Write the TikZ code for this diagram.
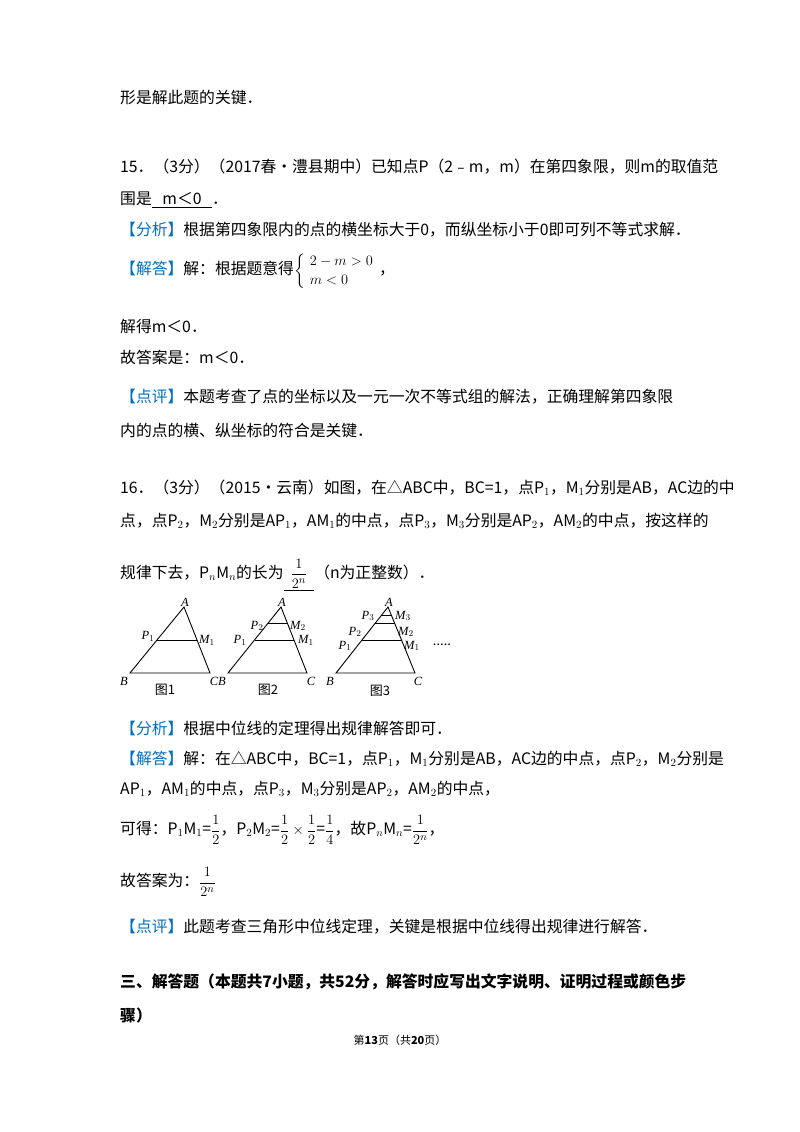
\documentclass[tikz,border=0pt]{standalone}
\usepackage{amsmath}
\usepackage{fontspec}
\setmainfont{Noto Sans CJK SC}
\newfontfamily\lat{Liberation Serif}
\usetikzlibrary{calc}
\definecolor{jb}{RGB}{0,112,192}
\begin{document}
\begin{tikzpicture}[x=1pt,y=-1pt,
  tl/.style={anchor=west,inner sep=0pt,font=\fontsize{15.8}{19}\selectfont},
  fl/.style={inner sep=0pt,font=\fontsize{12.5}{13}\selectfont\lat\itshape},
  figcap/.style={inner sep=0pt,font=\fontsize{13}{14}\selectfont},
  ln/.style={line width=0.9pt}]
\useasboundingbox (0,0) rectangle (800,1132);
\fill[white] (0,0) rectangle (800,1132);
\newcommand\bl[1]{\textcolor{jb}{#1}}
\node[tl] (l1) at (120,98) {形是解此题的关键．};
\node[tl] (l2) at (120,167) {15．（3分）（2017春•澧县期中）已知点P（2﹣m，m）在第四象限，则m的取值范};
\node[tl] (l3) at (120,200) {围是\underline{\ \ \ m＜0\ \ \ }．};
\node[tl] (l4) at (120,230) {\bl{【分析】}根据第四象限内的点的横坐标大于0，而纵坐标小于0即可列不等式求解．};
\node[tl] (l5) at (120,271) {\bl{【解答】}解：根据题意得$\left\{\begin{array}{l}2-m>0\\ m<0\end{array}\right.$，};
\node[tl] (l6) at (120,327) {解得m＜0．};
\node[tl] (l7) at (120,357) {故答案是：m＜0．};
\node[tl] (l8) at (120,397) {\bl{【点评】}本题考查了点的坐标以及一元一次不等式组的解法，正确理解第四象限};
\node[tl] (l9) at (120,430) {内的点的横、纵坐标的符合是关键．};
\node[tl] (l10) at (120,488) {16．（3分）（2015•云南）如图，在△ABC中，BC=1，点P$_1$，M$_1$分别是AB，AC边的中};
\node[tl] (l11) at (120,521) {点，点P$_2$，M$_2$分别是AP$_1$，AM$_1$的中点，点P$_3$，M$_3$分别是AP$_2$，AM$_2$的中点，按这样的};
\node[tl] (l12) at (120,575) {规律下去，P$_n$M$_n$的长为\underline{\ \ $\dfrac{1}{2^n}$\ \ }（n为正整数）．};
% figure 1
\coordinate (A1) at (184,607); \coordinate (B1) at (130,673); \coordinate (C1) at (210,673);
\draw[ln] (A1)--(B1)--(C1)--cycle;
\draw[ln] ($(A1)!0.5!(B1)$) coordinate (P11) -- ($(A1)!0.5!(C1)$) coordinate (M11);
\node[fl] at (185,602) {A}; \node[fl] at (124,681) {B}; \node[fl] at (214,681) {C};
\node[fl] at (148,636) {P$_1$}; \node[fl] at (207,640) {M$_1$};
\node[figcap] at (165,690) {图1};
% figure 2
\coordinate (A2) at (281,607); \coordinate (B2) at (228,673); \coordinate (C2) at (307,673);
\draw[ln] (A2)--(B2)--(C2)--cycle;
\draw[ln] ($(A2)!0.5!(B2)$)--($(A2)!0.5!(C2)$);
\draw[ln] ($(A2)!0.25!(B2)$)--($(A2)!0.25!(C2)$);
\node[fl] at (282,602) {A}; \node[fl] at (222,681) {B}; \node[fl] at (311,681) {C};
\node[fl] at (240,640) {P$_1$}; \node[fl] at (306,640) {M$_1$};
\node[fl] at (257,626) {P$_2$}; \node[fl] at (298,626) {M$_2$};
\node[figcap] at (268,690) {图2};
% figure 3
\coordinate (A3) at (388,607); \coordinate (B3) at (336,673); \coordinate (C3) at (415,673);
\draw[ln] (A3)--(B3)--(C3)--cycle;
\draw[ln] ($(A3)!0.5!(B3)$)--($(A3)!0.5!(C3)$);
\draw[ln] ($(A3)!0.25!(B3)$)--($(A3)!0.25!(C3)$);
\draw[ln] ($(A3)!0.125!(B3)$)--($(A3)!0.125!(C3)$);
\node[fl] at (389,602) {A}; \node[fl] at (330,681) {B}; \node[fl] at (418,681) {C};
\node[fl] at (345,646) {P$_1$}; \node[fl] at (355,632) {P$_2$}; \node[fl] at (368,616) {P$_3$};
\node[fl] at (412,646) {M$_1$}; \node[fl] at (406,632) {M$_2$}; \node[fl] at (403,616) {M$_3$};
\node[figcap] at (380,691) {图3};
\node[figcap] at (442,645) {.....};
\node[tl] (l13) at (120,728) {\bl{【分析】}根据中位线的定理得出规律解答即可．};
\node[tl] (l14) at (120,759) {\bl{【解答】}解：在△ABC中，BC=1，点P$_1$，M$_1$分别是AB，AC边的中点，点P$_2$，M$_2$分别是};
\node[tl] (l15) at (120,789) {AP$_1$，AM$_1$的中点，点P$_3$，M$_3$分别是AP$_2$，AM$_2$的中点，};
\node[tl] (l16) at (120,830) {可得：P$_1$M$_1$=$\dfrac12$，P$_2$M$_2$=$\dfrac12\times\dfrac12$=$\dfrac14$，故P$_n$M$_n$=$\dfrac{1}{2^n}$，};
\node[tl] (l17) at (120,882) {故答案为：$\dfrac{1}{2^n}$};
\node[tl] (l18) at (120,927) {\bl{【点评】}此题考查三角形中位线定理，关键是根据中位线得出规律进行解答．};
\node[tl] (l19) at (120,982) {\bfseries 三、解答题（本题共7小题，共52分，解答时应写出文字说明、证明过程或颜色步};
\node[tl] (l20) at (120,1015) {\bfseries 骤）};
\node[inner sep=0pt,font=\fontsize{11}{13}\selectfont] (ft) at (400,1040) {第\textbf{13}页（共\textbf{20}页）};
\end{tikzpicture}
\end{document}
